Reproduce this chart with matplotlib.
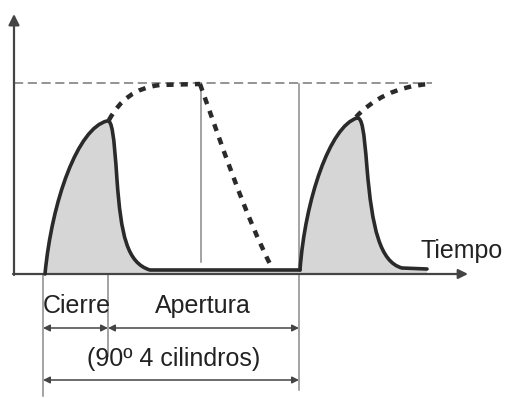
import matplotlib
matplotlib.use("Agg")
import matplotlib.pyplot as plt
from matplotlib.path import Path
from matplotlib.patches import PathPatch, FancyArrowPatch

plt.rcParams['font.family'] = ['Liberation Sans', 'DejaVu Sans']

# Diagram drawn in a pixel-like frame: x to the right, y downwards.
BASE = 270
AXIS_Y = 274
AXIS_X = 14
LEVEL_Y = 84

# Bezier control points of the two pulses (move, 3x curve4, line)
pulse1 = [(45, AXIS_Y), (52, 200), (78, 128), (107, 121),
          (112, 119), (114, 135), (117, 180),
          (121, 235), (127, 263), (150, BASE), (300, BASE)]
pulse2 = [(300, BASE), (305, 200), (330, 126), (357, 118),
          (362, 117), (364, 130), (367, 168),
          (372, 228), (380, 262), (402, 268), (427, 269)]
pulse_codes = [Path.MOVETO] + [Path.CURVE4] * 9 + [Path.LINETO]

# Dotted "ideal" curve segments
dot_rise1 = [(109, 120), (120, 100), (135, 88), (160, 85), (200, LEVEL_Y)]
dot_rise1_codes = [Path.MOVETO, Path.CURVE4, Path.CURVE4, Path.CURVE4, Path.LINETO]
dot_fall = [(200, LEVEL_Y), (220, 140), (245, 215), (272, 268)]
dot_rise2 = [(356, 117), (372, 100), (396, 86), (430, LEVEL_Y)]
curve4_codes = [Path.MOVETO, Path.CURVE4, Path.CURVE4, Path.CURVE4]

# Thin guide lines: (x, y_top, y_bottom)
guides = [(201, LEVEL_Y, 262), (299, LEVEL_Y, 390), (108, 120, 356), (43, AXIS_Y, 396)]

labels = ["Cierre", "Apertura", "(90º 4 cilindros)", "Tiempo"]
cierre_x = (43, 108)
apertura_x = (108, 299)
ciclo_x = (43, 299)

fig = plt.figure(figsize=(5.1, 3.98), dpi=100)
ax = fig.add_axes([0, 0, 1, 1])
ax.set_xlim(0, 510)
ax.set_ylim(398, 0)
ax.axis("off")

dark = "#2a2a2a"
fill = "#d6d6d6"
thin = "#8a8a8a"

# Guide lines and reference level
for x, y0, y1 in guides:
    ax.plot([x, x], [y0, y1], color=thin, lw=1.1, zorder=1)
ax.plot([AXIS_X, 432], [LEVEL_Y - 1, LEVEL_Y - 1], color="#777777", lw=1.1,
        dashes=(6, 3), zorder=1)

# Shaded pulses
for pts in (pulse1, pulse2):
    area = pts + [(pts[-1][0], AXIS_Y), (pts[0][0], AXIS_Y), pts[0]]
    codes = pulse_codes + [Path.LINETO, Path.LINETO, Path.CLOSEPOLY]
    ax.add_patch(PathPatch(Path(area, codes), facecolor=fill, edgecolor="none", zorder=2))
    ax.add_patch(PathPatch(Path(pts, pulse_codes), facecolor="none", edgecolor=dark,
                           lw=2.6, capstyle="round", joinstyle="round", zorder=4))

# Dotted curves
for pts, codes in ((dot_rise1, dot_rise1_codes), (dot_fall, curve4_codes),
                   (dot_rise2, curve4_codes)):
    ax.add_patch(PathPatch(Path(pts, codes), facecolor="none", edgecolor=dark,
                           lw=3.2, linestyle=(0, (1.6, 1.6)), zorder=4))

# Axes with arrows
ax.annotate("", xy=(AXIS_X, 14), xytext=(AXIS_X, AXIS_Y + 1),
            arrowprops=dict(arrowstyle="-|>", color="#444444", lw=1.6,
                            mutation_scale=16, shrinkA=0, shrinkB=0), zorder=3)
ax.annotate("", xy=(468, AXIS_Y), xytext=(AXIS_X - 1, AXIS_Y),
            arrowprops=dict(arrowstyle="-|>", color="#444444", lw=1.6,
                            mutation_scale=14, shrinkA=0, shrinkB=0), zorder=3)


def dim_arrow(x0, x1, y):
    ax.add_patch(FancyArrowPatch((x0, y), (x1, y), arrowstyle="<|-|>",
                                 mutation_scale=10, color="#444444", lw=1.1,
                                 shrinkA=0, shrinkB=0, zorder=3))


dim_arrow(*cierre_x, 328)
dim_arrow(*apertura_x, 328)
dim_arrow(*ciclo_x, 380)

fs = 18
tc = "#222222"
ax.text(77, 313, labels[0], fontsize=fs, ha="center", va="baseline", color=tc)
ax.text(203, 313, labels[1], fontsize=fs, ha="center", va="baseline", color=tc)
ax.text(174, 366, labels[2], fontsize=fs, ha="center", va="baseline", color=tc)
ax.text(421, 258, labels[3], fontsize=fs, ha="left", va="baseline", color=tc)

fig.savefig("out.png", dpi=100)
